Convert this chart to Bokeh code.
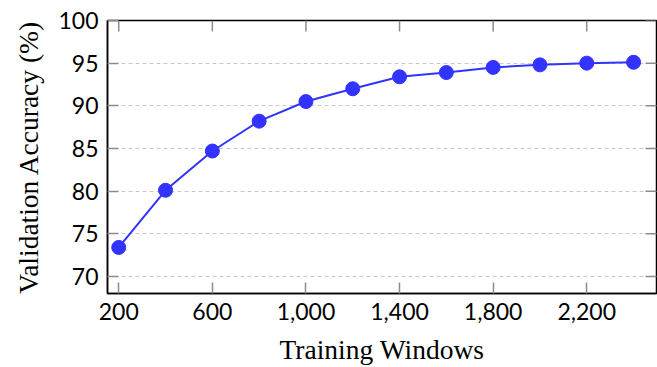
import math
from bokeh.plotting import figure
from bokeh.models import FixedTicker, NumeralTickFormatter, Range1d, ColumnDataSource
from bokeh.embed import file_html
from bokeh.resources import INLINE

# Training-set size (number of windows) vs. validation accuracy
windows = [200, 400, 600, 800, 1000, 1200, 1400, 1600, 1800, 2000, 2200, 2400]
accuracy = [73.4, 80.1, 84.7, 88.2, 90.5, 92.0, 93.4, 93.9, 94.5, 94.8, 95.0, 95.1]

x_ticks = [200, 600, 1000, 1400, 1800, 2200]
y_ticks = [70, 75, 80, 85, 90, 95, 100]

LINE_COLOR = "#3333ff"
TICK_COLOR = "#8c8c8c"
SANS = "Lato"
SERIF = "Liberation Serif"
TICK_LEN = 11

x_range = Range1d(152, 2498)
y_range = Range1d(68, 100)

src = ColumnDataSource(dict(x=windows, y=accuracy))

p = figure(width=657, height=367, output_backend="svg", toolbar_location=None,
           x_range=x_range, y_range=y_range,
           min_border_left=107, min_border_right=1, min_border_top=20,
           min_border_bottom=74)

p.outline_line_color = "black"
p.outline_line_width = 1.5
p.background_fill_color = "white"
p.border_fill_color = "white"

# Horizontal dashed grid only
p.xgrid.grid_line_color = None
p.ygrid.ticker = FixedTicker(ticks=y_ticks)
p.ygrid.grid_line_color = "#c8c8c8"
p.ygrid.grid_line_dash = "4 3"
p.ygrid.grid_line_width = 1

# Mirrored inward ticks along the top and right edges of the frame
p.ray(x=x_ticks, y=[y_range.end] * len(x_ticks), angle=-math.pi / 2,
      length=TICK_LEN, length_units="screen",
      line_color=TICK_COLOR, line_width=1.5)
p.ray(x=[x_range.end] * len(y_ticks), y=y_ticks, angle=math.pi,
      length=TICK_LEN, length_units="screen",
      line_color=TICK_COLOR, line_width=1.5)

p.line("x", "y", source=src, line_color=LINE_COLOR, line_width=2)
p.scatter("x", "y", source=src, size=14, fill_color=LINE_COLOR,
          line_color=LINE_COLOR)


def style_axis(ax, ticks):
    ax.ticker = FixedTicker(ticks=ticks)
    ax.major_tick_in = TICK_LEN
    ax.major_tick_out = 0
    ax.minor_tick_line_color = None
    ax.major_tick_line_color = TICK_COLOR
    ax.major_tick_line_width = 1.5
    ax.axis_line_color = "black"
    ax.axis_line_width = 1.5
    ax.major_label_text_font = SANS
    ax.major_label_text_font_size = "23px"
    ax.major_label_text_color = "black"
    ax.major_label_standoff = 9
    ax.axis_label_text_font = SERIF
    ax.axis_label_text_font_size = "27.5px"
    ax.axis_label_text_font_style = "normal"
    ax.axis_label_text_color = "black"


xa = p.xaxis[0]
style_axis(xa, x_ticks)
xa.formatter = NumeralTickFormatter(format="0,0")
xa.axis_label = "Training Windows"
xa.axis_label_standoff = 11

ya = p.yaxis[0]
style_axis(ya, y_ticks)
ya.axis_label = "Validation Accuracy (%)"
ya.axis_label_standoff = 11

open("out.html", "w").write(file_html(p, INLINE))
